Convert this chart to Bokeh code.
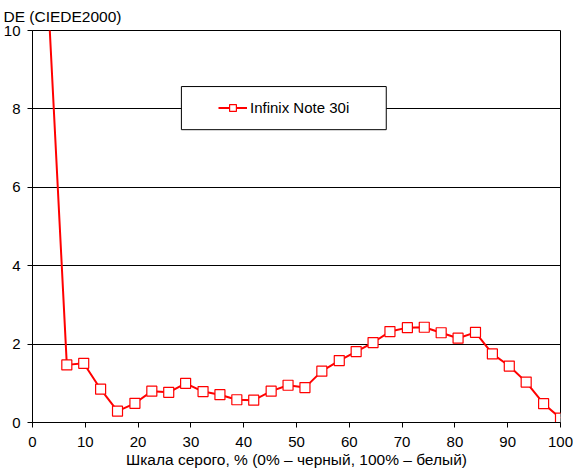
from bokeh.plotting import figure
from bokeh.models import Range1d, FixedTicker, Legend, LegendItem, BoxAnnotation, Title
from bokeh.embed import file_html
from bokeh.resources import INLINE

# Data (gray level %, DeltaE 2000)
gray = [3.2, 6.5, 9.7, 12.9, 16.1, 19.4, 22.6, 25.8, 29.0, 32.3, 35.5, 38.7, 41.9,
        45.2, 48.4, 51.6, 54.8, 58.1, 61.3, 64.5, 67.7, 71.0, 74.2, 77.4, 80.6,
        83.9, 87.1, 90.3, 93.5, 96.8, 100.0]
de = [10.2, 1.47, 1.51, 0.85, 0.29, 0.49, 0.80, 0.77, 1.00, 0.79, 0.71, 0.58, 0.57,
      0.80, 0.95, 0.89, 1.31, 1.58, 1.81, 2.04, 2.32, 2.42, 2.43, 2.29, 2.15,
      2.30, 1.75, 1.44, 1.03, 0.48, 0.11]
series_name = "Infinix Note 30i"
x_ticks = [0, 10, 20, 30, 40, 50, 60, 70, 80, 90, 100]
y_ticks = [0, 2, 4, 6, 8, 10]
y_title = "DE (CIEDE2000)"
x_title = "Шкала серого, % (0% – черный, 100% – белый)"

FONT = "Liberation Sans"

p = figure(width=573, height=472, output_backend="svg", toolbar_location=None,
           x_range=Range1d(0, 100), y_range=Range1d(0, 10),
           min_border_left=29, min_border_right=13, min_border_top=30,
           min_border_bottom=50)
p.title = None
t = Title(text=y_title, align="left", offset=-29, text_font=FONT,
          text_font_size="15.5px", text_font_style="normal", text_color="black",
          standoff=11)
p.add_layout(t, "above")

p.outline_line_color = "black"
p.outline_line_width = 1
p.background_fill_color = "white"
p.border_fill_color = "white"

p.xgrid.grid_line_color = None
p.ygrid.grid_line_color = "black"
p.ygrid.grid_line_width = 1

for ax in (p.xaxis[0], p.yaxis[0]):
    ax.axis_line_color = "black"
    ax.major_tick_line_color = "black"
    ax.major_tick_in = 0
    ax.major_tick_out = 5
    ax.minor_tick_line_color = None
    ax.major_label_text_font = FONT
    ax.major_label_text_font_size = "15px"
    ax.major_label_text_color = "black"

p.xaxis[0].ticker = FixedTicker(ticks=x_ticks)
p.yaxis[0].ticker = FixedTicker(ticks=y_ticks)
p.xaxis[0].major_label_standoff = 9
p.yaxis[0].major_label_standoff = 7
p.xaxis[0].axis_label = x_title
p.xaxis[0].axis_label_text_font = FONT
p.xaxis[0].axis_label_text_font_size = "15.5px"
p.xaxis[0].axis_label_text_font_style = "normal"
p.xaxis[0].axis_label_text_color = "black"
p.xaxis[0].axis_label_standoff = 1

r_line = p.line(gray, de, line_color="red", line_width=2)
r_mark = p.scatter(gray, de, marker="square", size=10, fill_color="white",
                   line_color="red", line_width=1.2)

# legend frame
box = BoxAnnotation(left=28.2, right=67.0, bottom=7.47, top=8.57,
                    fill_color="white", fill_alpha=1.0,
                    line_color="black", line_width=1, line_alpha=1.0,
                    level="overlay")
p.add_layout(box)

legend = Legend(items=[LegendItem(label=series_name, renderers=[r_line, r_mark])],
                location=(186, 306), padding=0, margin=0, spacing=0,
                glyph_width=29, glyph_height=17, label_height=17, label_standoff=3,
                label_text_font=FONT, label_text_font_size="15px",
                label_text_color="black",
                background_fill_alpha=0, border_line_color=None)
p.add_layout(legend, "center")

open("out.html", "w").write(file_html(p, INLINE))
